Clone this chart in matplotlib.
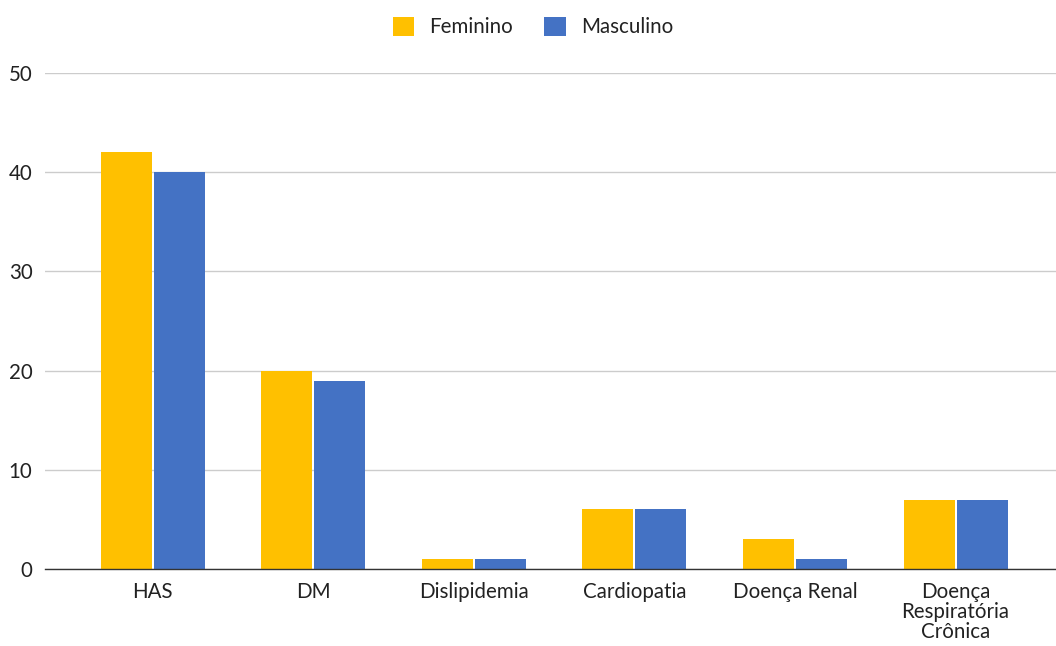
import matplotlib
matplotlib.use("Agg")
import matplotlib.pyplot as plt
import numpy as np

categories = ["HAS", "DM", "Dislipidemia", "Cardiopatia", "Doença Renal",
              "Doença\nRespiratória\nCrônica"]
feminino = [42, 20, 1, 6, 3, 7]
masculino = [40, 19, 1, 6, 1, 7]
yticks = [0, 10, 20, 30, 40, 50]

plt.rcParams['font.family'] = ['Lato', 'DejaVu Sans']
FS = 14.8

fig = plt.figure(figsize=(10.56, 6.46), dpi=100)
ax = fig.add_axes([45/1056, 77/646, 1 - 45/1056, (569-73)/646])

x = np.arange(len(categories))
w = 0.318
off = 0.165
ax.bar(x - off, feminino, w, color='#FFC000', label='Feminino', zorder=3)
ax.bar(x + off, masculino, w, color='#4472C4', label='Masculino', zorder=3)

ax.set_xlim(-0.67, 5.625)
ax.set_ylim(0, 50)
ax.set_yticks(yticks)
ax.set_xticks(x)
ax.set_xticklabels(categories, fontsize=FS, color='#222222', linespacing=1.02)
ax.tick_params(axis='y', labelsize=FS, colors='#222222', length=0, pad=9)
ax.tick_params(axis='x', length=0, pad=9)
ax.grid(axis='y', color='#cccccc', linewidth=1, zorder=0)
for s in ['top', 'right', 'left']:
    ax.spines[s].set_visible(False)
ax.spines['bottom'].set_color('#333333')
ax.spines['bottom'].set_linewidth(1)
ax.spines['bottom'].set_zorder(4)

leg = fig.legend(loc='center', bbox_to_anchor=(533/1056, 1 - 27/646), ncol=2,
                 frameon=False, fontsize=FS, handlelength=1.05, handleheight=1.05,
                 columnspacing=1.5, handletextpad=0.75)
for t in leg.get_texts():
    t.set_color('#222222')

fig.savefig("out.png", dpi=100)
